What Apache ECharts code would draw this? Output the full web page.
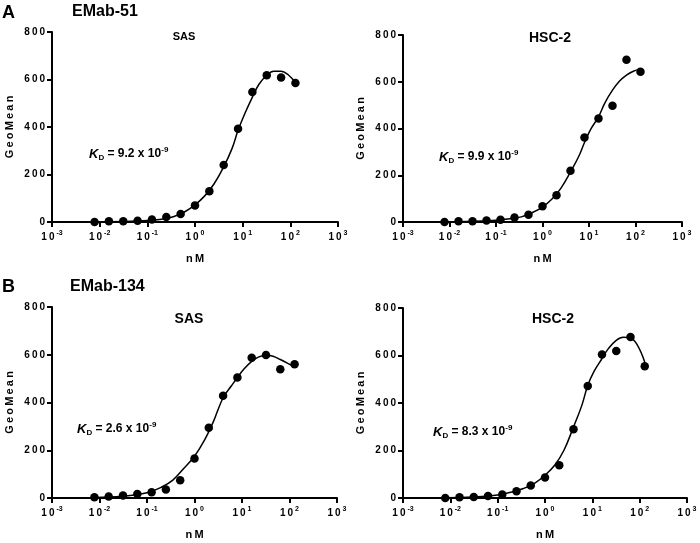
<!DOCTYPE html>
<html>
<head>
<meta charset="utf-8">
<script src="https://cdn.jsdelivr.net/npm/echarts@6/dist/echarts.min.js"></script>
<style>
  html, body { margin: 0; padding: 0; background: #fff; }
  #chart { width: 700px; height: 543px; }
</style>
</head>
<body>
<div id="chart"></div>
<script>
// concentrations (nM), 2-fold dilutions
let concs = [0.0078125, 0.015625, 0.03125, 0.0625, 0.125, 0.25, 0.5, 1, 2, 4, 8, 16, 32, 64, 128]
let curveX = [0.008, 0.03, 0.1, 0.2, 0.35, 0.6, 1, 1.6, 2.5, 4, 6, 8, 11, 16, 22, 32, 45, 64, 90, 128]

// EMab-51
let sas51Points = [0, 3, 3, 5, 11, 21, 34, 70, 129, 240, 393, 547, 618, 608, 585]
let sas51Curve = [0.5, 2, 6, 12, 22, 42, 72, 110, 160, 232, 310, 386, 455, 526, 580, 618, 635, 635, 620, 587]
let hsc51Points = [0, 3, 3, 6, 10, 19, 31, 67, 114, 219, 362, 443, 497, 694, 643]
let hsc51Curve = [1, 3, 8, 14, 22, 40, 64, 98, 145, 214, 280, 340, 398, 450, 510, 564, 602, 628, 645, 655]
// EMab-134
let sas134Points = [3, 6, 10, 17, 24, 36, 74, 165, 294, 428, 505, 587, 599, 539, 560]
let sas134Curve = [2, 7, 22, 45, 75, 125, 175, 240, 320, 420, 470, 505, 540, 572, 590, 598, 594, 580, 565, 548]
let hsc134Points = [0, 3, 4, 8, 15, 28, 53, 86, 138, 289, 472, 604, 619, 678, 555]
let hsc134Curve = [1, 4, 13, 25, 40, 62, 96, 138, 200, 299, 390, 474, 535, 587, 630, 664, 677, 674, 643, 573]

let yTicks = [0, 200, 400, 600, 800]
let kdLabels = ['9.2', '9.9', '2.6', '8.3']
let cellTitles = ['SAS', 'HSC-2', 'SAS', 'HSC-2']

let font = 'Liberation Sans, Arial, sans-serif'
let thin = '\u2009'
// the figure uses letter-spaced axis text
let spaced = (s) => String(s).split('').join(thin)

let chart = echarts.init(document.getElementById('chart'))

let grids = [
  {left: 52, top: 32, width: 286, height: 190},
  {left: 403, top: 35, width: 279, height: 187},
  {left: 52, top: 307, width: 285, height: 191},
  {left: 403, top: 308, width: 284, height: 190}
]

let pointsList = [sas51Points, hsc51Points, sas134Points, hsc134Points]
let curveList = [sas51Curve, hsc51Curve, sas134Curve, hsc134Curve]

let xAxes = grids.map((g, i) => ({
  type: 'log',
  gridIndex: i,
  logBase: 10,
  min: 0.001,
  max: 1000,
  interval: 1,
  name: spaced('nM'),
  nameLocation: 'middle',
  nameGap: 31,
  nameTextStyle: {color: '#000', fontWeight: 'bold', fontSize: 11, fontFamily: font},
  axisLine: {lineStyle: {color: '#000', width: 2}},
  axisTick: {length: 5, lineStyle: {color: '#000', width: 2}},
  minorTick: {show: false},
  splitLine: {show: false},
  axisLabel: {
    margin: 8,
    formatter: function (v) {
      let e = Math.round(Math.log10(v))
      return '{b|1' + thin + '0}{s| ' + e + '}'
    },
    rich: {
      b: {fontSize: 10, fontWeight: 'bold', color: '#000', fontFamily: font, lineHeight: 12, verticalAlign: 'bottom'},
      s: {fontSize: 7, fontWeight: 'bold', color: '#000', fontFamily: font, lineHeight: 12, verticalAlign: 'top'}
    }
  }
}))

let yAxes = grids.map((g, i) => ({
  type: 'value',
  gridIndex: i,
  min: 0,
  max: 800,
  interval: 200,
  name: spaced('GeoMean'),
  nameLocation: 'middle',
  nameRotate: 90,
  nameGap: 37,
  nameTextStyle: {color: '#000', fontWeight: 'bold', fontSize: 11, fontFamily: font},
  axisLine: {show: true, lineStyle: {color: '#000', width: 2}},
  axisTick: {show: true, length: 5, lineStyle: {color: '#000', width: 2}},
  splitLine: {show: false},
  axisLabel: {
    margin: 7, color: '#000', fontWeight: 'bold', fontSize: 10, fontFamily: font,
    formatter: (v) => spaced(v)
  }
}))

let series = []
grids.forEach((g, i) => {
  series.push({
    type: 'line',
    xAxisIndex: i,
    yAxisIndex: i,
    smooth: 0.4,
    symbol: 'none',
    lineStyle: {color: '#000', width: 1.5},
    data: curveX.map((x, j) => [x, curveList[i][j]]),
    z: 2
  })
  series.push({
    type: 'scatter',
    xAxisIndex: i,
    yAxisIndex: i,
    symbolSize: 8.5,
    itemStyle: {color: '#000', opacity: 1},
    data: concs.map((x, j) => [x, pointsList[i][j]]),
    z: 3
  })
})

let titleStyle = (size) => ({fontSize: size, fontWeight: 'bold', fill: '#000', fontFamily: font})

let kdText = (v) => ({
  text: '{k|K}{d|D}{t| = ' + v + ' x 10}{e|-9}',
  rich: {
    k: {fontSize: 13, fontStyle: 'italic', fontWeight: 'bold', fontFamily: font, color: '#000', lineHeight: 16, verticalAlign: 'middle'},
    d: {fontSize: 8, fontWeight: 'bold', fontFamily: font, color: '#000', lineHeight: 16, verticalAlign: 'bottom'},
    t: {fontSize: 12, fontWeight: 'bold', fontFamily: font, color: '#000', lineHeight: 16, verticalAlign: 'middle'},
    e: {fontSize: 8, fontWeight: 'bold', fontFamily: font, color: '#000', lineHeight: 16, verticalAlign: 'top'}
  }
})

let kdPos = [[89, 146], [439, 149], [77, 421], [433, 424]]
let titlePos = [[184, 37, 11], [550, 38, 14], [189, 319, 14], [553, 319, 14]]

let graphic = [
  {type: 'text', left: 2, top: 4, style: Object.assign({text: 'A'}, titleStyle(18))},
  {type: 'text', left: 72, top: 4, style: Object.assign({text: 'EMab-51'}, titleStyle(16))},
  {type: 'text', left: 2, top: 278, style: Object.assign({text: 'B'}, titleStyle(18))},
  {type: 'text', left: 70, top: 279, style: Object.assign({text: 'EMab-134'}, titleStyle(16))}
]
titlePos.forEach((p, i) => {
  graphic.push({
    type: 'text', x: p[0], y: p[1],
    style: Object.assign({text: cellTitles[i], align: 'center', verticalAlign: 'middle'}, titleStyle(p[2]))
  })
})
kdPos.forEach((p, i) => {
  graphic.push({type: 'text', left: p[0], top: p[1], style: kdText(kdLabels[i])})
})

chart.setOption({
  animation: false,
  backgroundColor: '#fff',
  grid: grids,
  xAxis: xAxes,
  yAxis: yAxes,
  series: series,
  graphic: graphic
})
</script>
</body>
</html>
